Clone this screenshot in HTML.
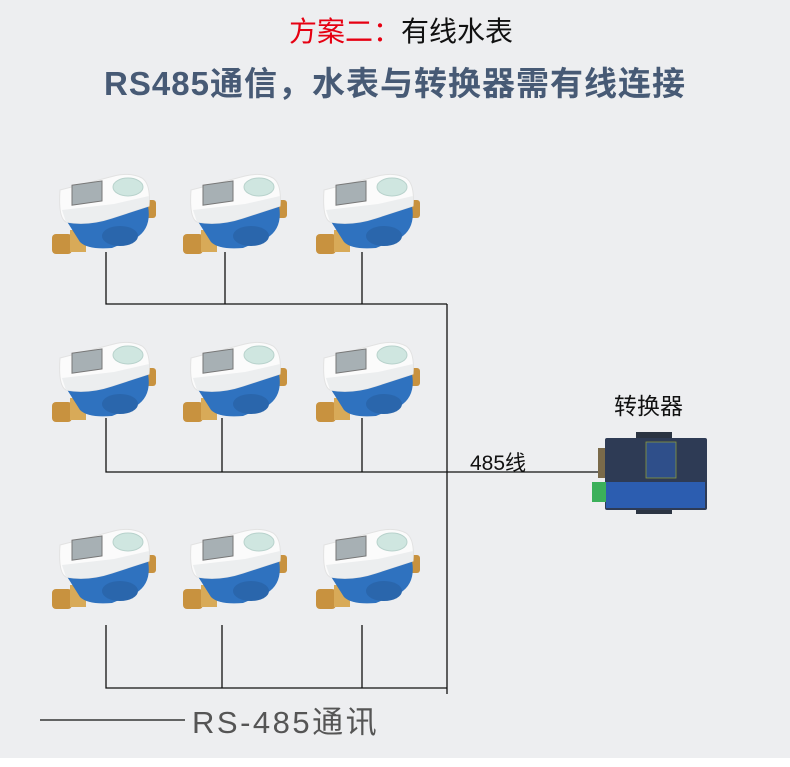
<!DOCTYPE html>
<html><head><meta charset="utf-8"><style>
html,body{margin:0;padding:0}
body{width:790px;height:767px;background:#fff;position:relative;overflow:hidden;font-family:"Liberation Sans","Noto Sans CJK SC",sans-serif}
.bg{position:absolute;left:0;top:0;width:790px;height:758px;background:#edeef0}
.t1{position:absolute;top:14px;left:289px;font-size:28px;line-height:36px;color:#111;white-space:nowrap}
.t1 span{color:#e60012}
.t2{position:absolute;top:62px;left:0;width:790px;text-align:center;font-size:33px;font-weight:bold;color:#475a75;letter-spacing:1px;line-height:44px;white-space:nowrap}
svg{position:absolute;left:0;top:0}
</style></head><body>
<div class="bg"></div>
<div class="t1"><span>方案二：</span>有线水表</div>
<div class="t2">RS485通信，水表与转换器需有线连接</div>
<svg width="790" height="767" viewBox="0 0 790 767">
<defs>
<g id="m">
<rect x="0" y="64" width="20" height="20" rx="4" fill="#c8923f"/>
<rect x="18" y="60" width="16" height="22" fill="#d8aa58"/>
<rect x="92" y="30" width="12" height="18" rx="3" fill="#c8923f"/>
<path d="M14 50 L96 36 Q100 58 84 68 L60 78 Q36 80 28 72 Z" fill="#2f72bf"/>
<ellipse cx="68" cy="66" rx="18" ry="10" fill="#2a66ac"/>
<path d="M8 20 L62 6 Q78 2 90 8 Q99 14 97 36 L60 48 Q36 56 14 52 Q6 48 8 20Z" fill="#fbfbfb" stroke="#e2e2e2" stroke-width="1"/>
<path d="M10 40 L62 34 L97 26 L97 36 L60 48 Q36 56 14 52Z" fill="#eceeef"/>
<rect x="20" y="14" width="30" height="20" fill="#a7b0b4" stroke="#777" stroke-width="1" transform="skewY(-8) translate(0,4)"/>
<ellipse cx="76" cy="17" rx="15" ry="9" fill="#cfe6e0" stroke="#b8d2cc"/>
</g>
</defs>
<use href="#m" x="52" y="170"/><use href="#m" x="183" y="170"/><use href="#m" x="316" y="170"/>
<use href="#m" x="52" y="338"/><use href="#m" x="183" y="338"/><use href="#m" x="316" y="338"/>
<use href="#m" x="52" y="525"/><use href="#m" x="183" y="525"/><use href="#m" x="316" y="525"/>
<g stroke="#111" stroke-width="1.3" fill="none">
<path d="M106 252V304H447 M225 252V304 M362 252V304"/>
<path d="M106 418V472H598 M222 418V472 M362 418V472"/>
<path d="M106 625V688H447 M222 625V688 M362 625V688"/>
<path d="M447 304V694"/>
<path d="M40 720H185"/>
</g>
<text x="470" y="470" font-size="21" fill="#111" font-family="Liberation Sans,Noto Sans CJK SC,sans-serif">485线</text>
<text x="614" y="414" font-size="23" fill="#111" font-family="Liberation Sans,Noto Sans CJK SC,sans-serif">转换器</text>
<text x="192" y="733" font-size="31" fill="#555" letter-spacing="2.5" font-family="Liberation Sans,Noto Sans CJK SC,sans-serif">RS-485通讯</text>
<rect x="636" y="432" width="36" height="8" fill="#2b3442"/>
<rect x="636" y="506" width="36" height="8" fill="#2b3442"/>
<rect x="598" y="448" width="8" height="30" fill="#7a6a4a"/>
<rect x="605" y="438" width="102" height="72" rx="2" fill="#2e3b55"/>
<rect x="646" y="442" width="30" height="36" fill="#2f4f8a" stroke="#8a9a3a" stroke-width="0.8"/>
<rect x="606" y="482" width="99" height="26" fill="#2c5db0"/>
<rect x="592" y="482" width="14" height="20" fill="#3bb05a"/>
</svg>
</body></html>
